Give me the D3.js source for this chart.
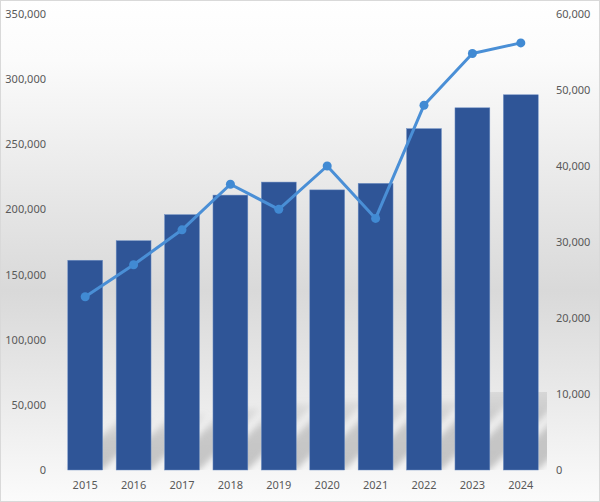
<!doctype html>
<html>
<head>
<meta charset="utf-8">
<style>
    body { margin: 0; background: #fff; }
    text { font-family: "Noto Sans", "Open Sans", sans-serif; font-size: 11px; fill: #595959; }
</style>
</head>
<body>
<div class="chart"></div>
<script src="https://cdn.jsdelivr.net/npm/d3@7"></script>
<script>

    // data
    let years = ['2015', '2016', '2017', '2018', '2019', '2020', '2021', '2022', '2023', '2024'];
    let barValues = [161000, 176000, 196000, 211000, 221000, 215000, 220000, 262000, 278000, 288000];
    let lineValues = [22800, 27000, 31600, 37600, 34300, 40000, 33100, 48000, 54800, 56200];
    let leftTicks = [0, 50000, 100000, 150000, 200000, 250000, 300000, 350000];
    let rightTicks = [0, 10000, 20000, 30000, 40000, 50000, 60000];

    let width = 600;
    let height = 502;
    let plot = {left: 61, right: 545, top: 14, bottom: 470};

    let svg = d3.select('.chart').append('svg')
        .attr('width', width)
        .attr('height', height);

    let defs = svg.append('defs');

    let bg = defs.append('linearGradient')
        .attr('id', 'bg')
        .attr('x1', 0).attr('y1', 0).attr('x2', 0).attr('y2', 1);
    bg.append('stop').attr('offset', '0%').attr('stop-color', '#ffffff');
    bg.append('stop').attr('offset', '12%').attr('stop-color', '#fbfbfb');
    bg.append('stop').attr('offset', '58%').attr('stop-color', '#d9d9d9');
    bg.append('stop').attr('offset', '100%').attr('stop-color', '#fbfbfb');

    let shade = defs.append('linearGradient')
        .attr('id', 'shade')
        .attr('x1', 0).attr('y1', 1).attr('x2', 0).attr('y2', 0);
    shade.append('stop').attr('offset', '0%').attr('stop-color', '#9a9a9a').attr('stop-opacity', 0.55);
    shade.append('stop').attr('offset', '60%').attr('stop-color', '#a0a0a0').attr('stop-opacity', 0.5);
    shade.append('stop').attr('offset', '100%').attr('stop-color', '#b0b0b0').attr('stop-opacity', 0.25);

    defs.append('filter').attr('id', 'blur')
        .attr('x', '-20%').attr('y', '-20%').attr('width', '140%').attr('height', '140%')
        .append('feGaussianBlur').attr('stdDeviation', 3);

    defs.append('clipPath').attr('id', 'shadowClip')
        .append('rect')
        .attr('x', plot.left).attr('y', 392)
        .attr('width', plot.right - plot.left + 2).attr('height', plot.bottom - 392);

    svg.append('rect')
        .attr('x', 0.5).attr('y', 0.5)
        .attr('width', width - 1).attr('height', height - 1)
        .attr('fill', 'url(#bg)')
        .attr('stroke', '#d9d9d9');

    let x = d3.scaleBand()
        .domain(years)
        .range([plot.left, plot.right])
        .paddingInner(0.28)
        .paddingOuter(0.14);

    let yLeft = d3.scaleLinear()
        .domain([0, 350000])
        .range([plot.bottom, plot.top]);

    let yRight = d3.scaleLinear()
        .domain([0, 60000])
        .range([plot.bottom, plot.top]);

    // perspective shadows behind bars, length grows with bar height
    let shadowLen = (v) => (plot.bottom - yLeft(v)) * 0.24;

    svg.append('g')
        .attr('clip-path', 'url(#shadowClip)')
        .append('g')
        .attr('filter', 'url(#blur)')
        .selectAll('path')
        .data(years)
        .join('path')
        .attr('fill', 'url(#shade)')
        .attr('d', (d, i) => {
            let x0 = x(d);
            let x1 = x0 + x.bandwidth();
            let h = shadowLen(barValues[i]);
            let y0 = plot.bottom;
            return `M${x0},${y0}L${x1},${y0}L${x1 + h},${y0 - h}L${x0 + h},${y0 - h}Z`;
        });

    svg.append('g')
        .selectAll('rect')
        .data(years)
        .join('rect')
        .attr('x', (d) => x(d))
        .attr('y', (d, i) => yLeft(barValues[i]))
        .attr('width', x.bandwidth())
        .attr('height', (d, i) => plot.bottom - yLeft(barValues[i]))
        .attr('fill', '#2f5597')
        .attr('stroke', '#6f8fc4')
        .attr('stroke-width', 0.5);

    // axes, no domain lines or tick marks
    let leftAxis = svg.append('g')
        .attr('transform', `translate(${plot.left - 15},0)`)
        .call(d3.axisLeft(yLeft).tickValues(leftTicks).tickSize(0).tickPadding(0).tickFormat(d3.format(',')));

    let rightAxis = svg.append('g')
        .attr('transform', `translate(${plot.right + 11},0)`)
        .call(d3.axisRight(yRight).tickValues(rightTicks).tickSize(0).tickPadding(0).tickFormat(d3.format(',')));

    let bottomAxis = svg.append('g')
        .attr('transform', `translate(0,${plot.bottom + 11})`)
        .call(d3.axisBottom(x).tickSize(0).tickPadding(0));

    [leftAxis, rightAxis, bottomAxis].forEach((a) => {
        a.select('.domain').remove();
        a.selectAll('text')
            .attr('fill', '#595959')
            .style('font-family', '"Noto Sans", "Open Sans", sans-serif')
            .style('font-size', '11px');
    });

    let cx = (d) => x(d) + x.bandwidth() / 2;

    let line = d3.line()
        .x((d) => cx(d))
        .y((d, i) => yRight(lineValues[i]));

    svg.append('path')
        .datum(years)
        .attr('d', line)
        .attr('fill', 'none')
        .attr('stroke', '#4a8fd6')
        .attr('stroke-width', 3)
        .attr('stroke-linejoin', 'round');

    svg.append('g')
        .selectAll('circle')
        .data(years)
        .join('circle')
        .attr('cx', (d) => cx(d))
        .attr('cy', (d, i) => yRight(lineValues[i]))
        .attr('r', 4.5)
        .attr('fill', '#418ad3');

</script>
</body>
</html>
